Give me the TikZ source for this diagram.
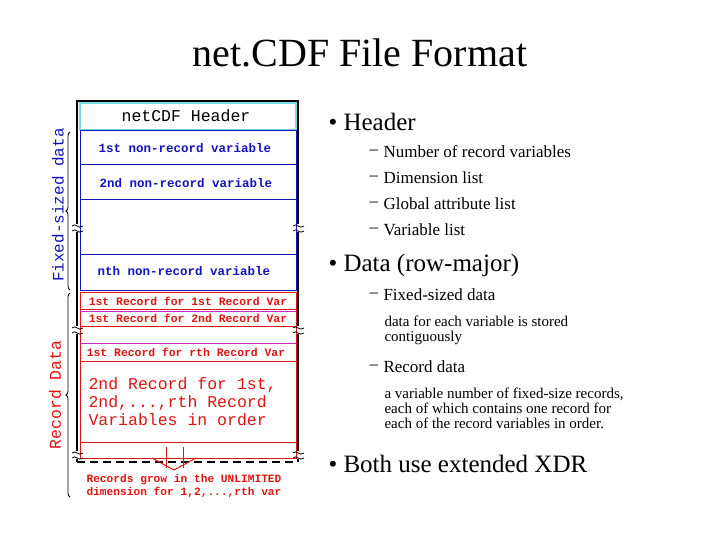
\documentclass[tikz,border=0pt]{standalone}
\usepackage{fontspec}
\setmainfont{Liberation Serif}
\newfontfamily\mono{Liberation Mono}
\usetikzlibrary{decorations.pathreplacing,arrows.meta}
\definecolor{hblue}{RGB}{20,20,190}
\definecolor{hred}{RGB}{225,20,20}
\definecolor{hmag}{RGB}{200,40,200}
\definecolor{hcyan}{RGB}{120,220,230}
\tikzset{
 bl/.style={draw=hblue,line width=1pt},
 rd/.style={draw=hred,line width=1pt},
 btxt/.style={text=hblue,font=\mono\bfseries\fontsize{12.5}{13}\selectfont},
 rtxt/.style={text=hred,font=\mono\bfseries\fontsize{11.4}{12}\selectfont},
 brk/.style={black,line width=0.8pt},
 big/.style={anchor=west,font=\fontsize{25}{28}\selectfont},
 mid/.style={anchor=west,font=\fontsize{17}{20}\selectfont},
 sml/.style={anchor=west,font=\fontsize{15}{17}\selectfont},
}
\begin{document}
\begin{tikzpicture}[x=1pt,y=-1pt]
\useasboundingbox[fill=white] (0,0) rectangle (720,540);
\node[font=\fontsize{40}{44}\selectfont] (title) at (360,53) {net.CDF File Format};
% frame
\draw[black,line width=1.6pt] (77,462) -- (77,101) -- (298,101) -- (298,462);
\draw[black,line width=1.6pt,dash pattern=on 8pt off 5pt] (77,462) -- (298,462);
% header
\draw[draw=hcyan,line width=1.2pt] (80,103) rectangle (296,130);
\node[font=\mono\fontsize{16.5}{17}\selectfont] (hdr) at (186,116) {netCDF Header};
\draw[bl] (80,131) rectangle (296,165);
\node[btxt] (v1) at (185,148) {1st non-record variable};
\draw[bl] (80,165) rectangle (296,200);
\node[btxt] (v2) at (186,183) {2nd non-record variable};
\draw[bl] (80,200) rectangle (296,254);
\draw[bl] (80,254) rectangle (296,290);
\node[btxt] (vn) at (184,271) {nth non-record variable};
% record region
\draw[rd] (80,292) rectangle (296,458);
\draw[rd] (80,309) -- (296,309);
\draw[draw=hmag,line width=1pt] (80,311) -- (296,311);
\node[rtxt] (r1) at (188,301) {1st Record for 1st Record Var};
\node[rtxt] (r2) at (188,318) {1st Record for 2nd Record Var};
\draw[rd] (80,326) -- (296,326);
\draw[draw=hmag,line width=1pt] (80,343) -- (296,343);
\node[rtxt] (r3) at (186,352) {1st Record for rth Record Var};
\draw[rd] (80,361) -- (296,361);
\draw[rd] (80,442) -- (296,442);
\node[text=hred,font=\mono\fontsize{16.5}{18}\selectfont,align=left,anchor=north west] (r4) at (85,374) {2nd Record for 1st,\\2nd,...,rth Record\\Variables in order};
% break marks
\foreach \yy in {228,330,455}{
 \draw[brk,white,line width=3pt] (77,\yy-4) -- (77,\yy+4);
 \draw[brk,white,line width=3pt] (298,\yy-4) -- (298,\yy+4);
 \draw[brk] (72,\yy-2) .. controls (76,\yy-6) and (78,\yy+2) .. (83,\yy-2);
 \draw[brk] (72,\yy+3) .. controls (76,\yy-1) and (78,\yy+7) .. (83,\yy+3);
 \draw[brk] (293,\yy-2) .. controls (297,\yy-6) and (299,\yy+2) .. (304,\yy-2);
 \draw[brk] (293,\yy+3) .. controls (297,\yy-1) and (299,\yy+7) .. (304,\yy+3);
}
% grow arrows
\coordinate (a1) at (166,447); \coordinate (a2) at (183,447);
\coordinate (tip) at (174,470);
\draw[hred,line width=1pt] (a1) -- (166,468) (a2) -- (183,468);
\draw[hred,line width=1pt] (152,458) -- (tip) -- (196,458);
\node[rtxt,align=center,font=\mono\bfseries\fontsize{11.2}{12.5}\selectfont] (grow) at (184,486) {Records grow in the UNLIMITED\\dimension for 1,2,...,rth var};
% braces
\draw[black,line width=0.8pt,decorate,decoration={brace,amplitude=4pt}] (70,290) -- (70,132);
\draw[black,line width=0.8pt,decorate,decoration={brace,amplitude=4pt}] (70,497) -- (70,293);
\node[text=hblue,font=\mono\fontsize{16}{16}\selectfont,rotate=90] (fs) at (58,205) {Fixed-sized data};
\node[text=hred,font=\mono\fontsize{16.5}{16}\selectfont,rotate=90] (rdl) at (55,395) {Record Data};
% text
\node[big] (b1) at (325,122) {• Header};
\foreach \yy/\t in {152/Number of record variables,178/Dimension list,204/Global attribute list,230/Variable list}{
 \node[mid] at (366,\yy) {–};
 \node[mid] at (380,\yy) {\t};
}
\node[big] (b2) at (325,265) {• Data (row-major)};
\node[mid] at (366,295) {–};
\node[mid] at (380,295) {Fixed-sized data};
\node[sml,align=left,anchor=north west] (t1) at (381,312) {data for each variable is stored\\[-2pt]contiguously};
\node[mid] at (366,367) {–};
\node[mid] at (380,367) {Record data};
\node[sml,align=left,anchor=north west] (t2) at (381,384) {a variable number of fixed-size records,\\[-2pt]each of which contains one record for\\[-2pt]each of the record variables in order.};
\node[big] (b3) at (325,464) {• Both use extended XDR};
\end{tikzpicture}
\end{document}
